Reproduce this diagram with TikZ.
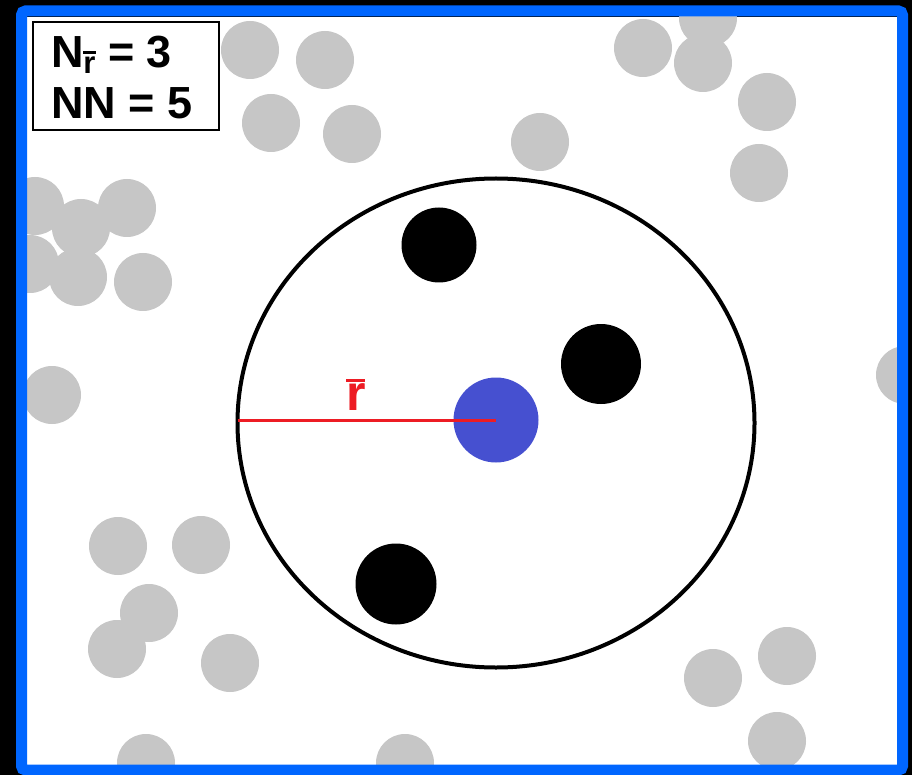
\documentclass[tikz,border=0pt]{standalone}
\usepackage{fontspec}
\setmainfont{Liberation Sans}
\usetikzlibrary{shapes.geometric}
\definecolor{frameblue}{RGB}{0,102,255}
\definecolor{dotgray}{RGB}{198,198,198}
\definecolor{centerblue}{RGB}{70,80,208}
\definecolor{radred}{RGB}{237,28,36}
\newcommand\rbarglyph[2]{\setbox0\hbox{r}\rlap{\rule[#1]{\wd0}{#2}}\box0}
\tikzset{
  gdot/.style={circle, fill=dotgray, inner sep=0pt, outer sep=0pt, minimum size=58pt},
  bdot/.style={circle, fill=black, inner sep=0pt, outer sep=0pt},
  lbl/.style={inner sep=0pt, outer sep=0pt, font=\bfseries\fontsize{45}{45}\selectfont, anchor=base west},
}
\begin{document}
\begin{tikzpicture}[x=1pt,y=-1pt]
\useasboundingbox (0,0) rectangle (912,775);
\fill[black] (0,0) rectangle (912,775);
\fill[white] (27,17) rectangle (897,765);
\begin{scope}
\clip (27,17) rectangle (897,765);
% gray particles
\foreach \n/\x/\y in {g1/250/50, g2/325/60, g3/271/123, g4/352/134, g5/540/142,
  g6/643/48, g7/708/18, g8/703/63, g9/767/102, g10/759/173,
  g11/35/206, g12/81/228, g13/127/208, g14/30/264, g15/78/277, g16/143/282,
  g17/52/395, g18/905/375,
  g19/118/546, g20/201/545, g21/149/613, g22/117/649, g23/230/663,
  g24/146/763, g25/405/763,
  g26/713/678, g27/787/656, g28/777/741}
  \node[gdot] (\n) at (\x,\y) {};
% neighbourhood circle
\node[ellipse, draw=black, line width=4pt, inner sep=0pt, outer sep=0pt,
      minimum width=517pt, minimum height=489pt] (bigc) at (496,423) {};
% neighbours
\node[bdot, minimum size=75pt] (b1) at (439,245) {};
\node[bdot, minimum size=80pt] (b2) at (601,364) {};
\node[bdot, minimum size=81pt] (b3) at (396,584) {};
% central particle
\node[circle, fill=centerblue, inner sep=0pt, outer sep=0pt, minimum size=85pt] (ctr) at (496,420) {};
\coordinate (redge) at (ctr.center -| bigc.west);
\draw[radred, line width=3pt] (redge) -- (ctr.center);
\node[inner sep=0pt, outer sep=0pt, anchor=base west, text=radred,
      font=\bfseries\fontsize{50}{50}\selectfont] (rlab) at (346,410)
      {\rbarglyph{28pt}{3.5pt}};
\end{scope}
% info box
\draw[black, fill=white, line width=2pt] (33,22) rectangle (219,130);
\node[lbl] (l1) at (51,68) {N\raisebox{-6pt}{\fontsize{31}{31}\selectfont\rbarglyph{19.5pt}{3pt}} = 3};
\node[lbl] (l2) at (51,119) {NN = 5};
% frame
\draw[frameblue, line width=11pt, rounded corners=4pt] (21.5,11) rectangle (902.5,770);
\end{tikzpicture}
\end{document}
